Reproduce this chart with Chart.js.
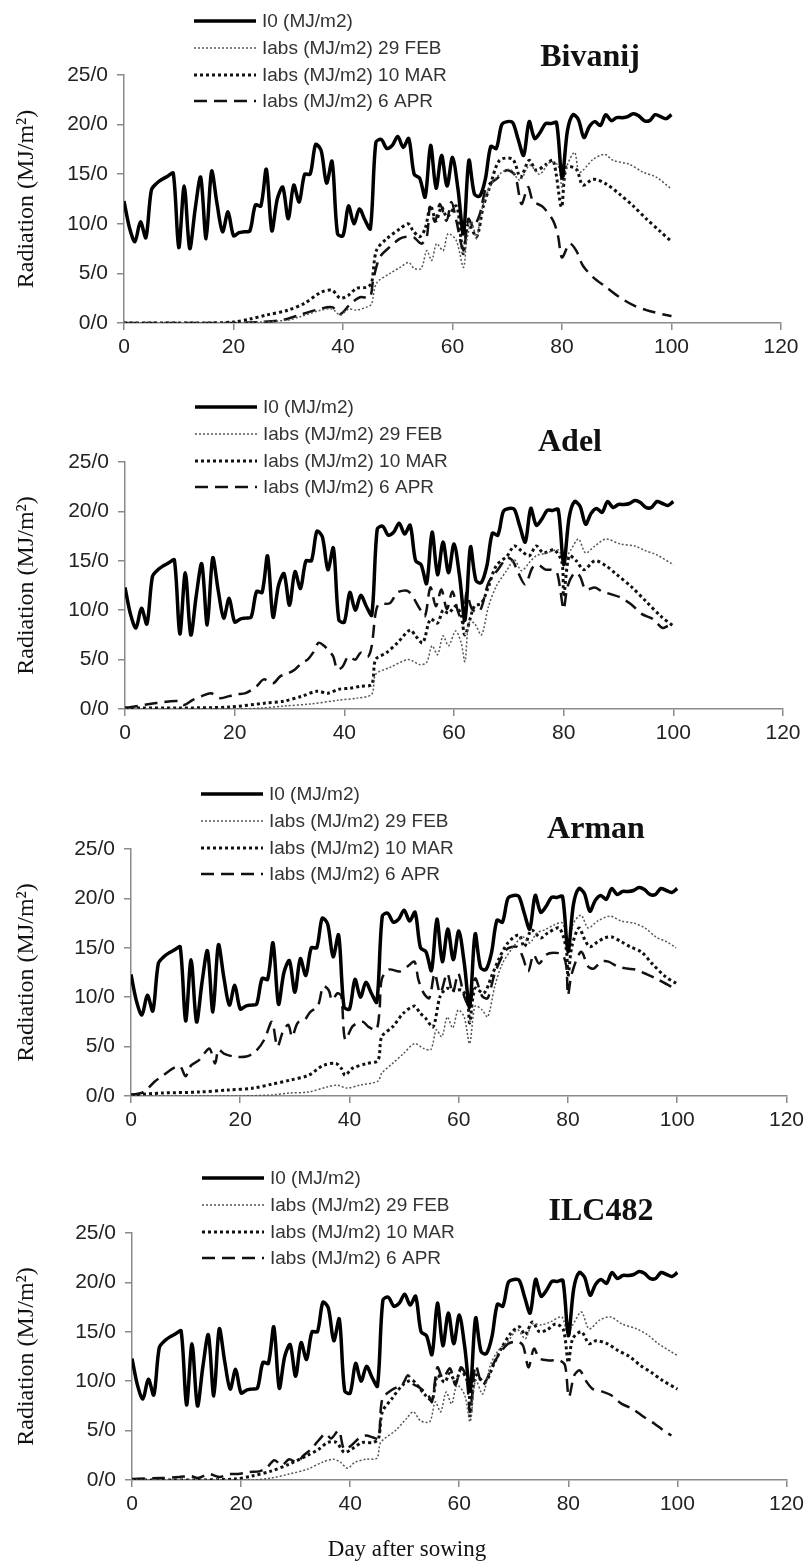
<!DOCTYPE html>
<html>
<head>
<meta charset="utf-8">
<script src="https://cdn.jsdelivr.net/npm/chart.js@4.4.1/dist/chart.umd.min.js"></script>
<style>
    body { margin: 0; background: #fff; width: 809px; height: 1561px; position: relative; overflow: hidden; }
    canvas.panel { position: absolute; left: 0; }
    #xTitle { position: absolute; left: 0; width: 814px; top: 1535px; line-height: 28px; text-align: center;
              font-family: "Liberation Serif", "Times New Roman", serif; font-size: 23px; color: #111; }
</style>
</head>
<body>
<canvas class="panel" id="panel0" width="809" height="385" style="top:0px"></canvas>
<canvas class="panel" id="panel1" width="809" height="385" style="top:386px"></canvas>
<canvas class="panel" id="panel2" width="809" height="385" style="top:773px"></canvas>
<canvas class="panel" id="panel3" width="809" height="385" style="top:1157px"></canvas>
<div id="xTitle">Day after sowing</div>
<script>
// ---- data ----
const cultivars = ["Bivanij", "Adel", "Arman", "ILC482"];
const seriesLabels = ["I0 (MJ/m2)", "Iabs (MJ/m2) 29 FEB", "Iabs (MJ/m2) 10 MAR", "Iabs (MJ/m2) 6 APR"];
const yTickLabels = ["0/0", "5/0", "10/0", "15/0", "20/0", "25/0"];
const yTitle = "Radiation (MJ/m²)";

// incident radiation, one value per day 0..100 (same in every panel)
const incidentRadiation = [
    12.3, 9.6, 8.2, 10.2, 8.6, 13.4, 14.1, 14.5, 14.8, 15.1,
    7.6, 13.8, 7.5, 11.5, 14.7, 8.5, 15.3, 12.0, 9.2, 11.2,
    8.8, 9.1, 9.2, 9.3, 11.9, 11.8, 15.5, 9.3, 12.5, 13.7,
    10.5, 13.9, 12.2, 15.0, 15.0, 18.0, 17.4, 14.1, 16.3, 9.0,
    8.8, 11.8, 10.0, 11.5, 10.4, 9.5, 18.2, 18.5, 17.6, 17.9,
    18.8, 17.7, 18.6, 15.0, 14.6, 12.7, 17.9, 13.6, 16.9, 13.8,
    16.7, 13.5, 9.0, 16.4, 13.0, 12.8, 14.5, 17.8, 17.6, 20.0,
    20.3, 20.2, 18.5, 16.9, 20.3, 18.6, 19.2, 20.1, 20.1, 20.2,
    14.6, 19.4, 21.0, 20.5, 18.7, 19.8, 20.3, 19.9, 21.0, 20.4,
    20.7, 20.7, 20.8, 21.1, 20.9, 20.4, 20.4, 21.0, 20.8, 20.6,
    21.0
];

// absorbed radiation, [day, value]
const bivanijFeb = [[0,0],[10,0],[20,0],[25,0.1],[30,0.3],[32,0.6],[36,1.3],[38,1.4],[39.5,0.8],[41,1.4],[42.5,1.3],[44.3,1.6],[45.2,1.9],[46.1,4.0],[48.6,5.0],[50.4,5.6],[52,6.1],[53,5.5],[54.3,5.5],[55.3,7.3],[56.2,6.3],[57.1,8.0],[58.3,7.3],[59.2,9.0],[60.7,8.3],[62,5.6],[62.6,8.3],[63.5,10.2],[64.4,8.5],[65.3,11.3],[66.8,13.7],[68.6,15.0],[70.5,15.5],[72.3,14.4],[74.1,15.9],[75.9,15.0],[77.8,16.2],[79.3,15.9],[80,13.7],[80.8,15.7],[82.3,17.2],[83.2,15.2],[85.7,16.5],[87.8,17.0],[89.3,16.4],[92.3,16.0],[94.8,15.2],[97.2,14.7],[100,13.5]];
const bivanijMar = [[0,0],[15,0],[20,0.1],[23,0.4],[26,0.8],[30,1.3],[33,2.0],[36,3.1],[38,3.3],[39.5,2.5],[41,2.8],[42.5,3.5],[44.3,3.6],[45.2,4.0],[46.1,7.3],[48,8.5],[50.4,9.5],[51.9,10.0],[52.8,9.3],[54,8.7],[55,9.5],[56,11.8],[57,10.3],[58,11.7],[59,10.7],[60.7,11.8],[61.6,8.3],[62,7.0],[62.9,10.0],[64.4,8.7],[65.6,11.7],[66.8,13.7],[68.6,16.4],[71,16.5],[72.4,14.7],[74,16.4],[75.3,15.4],[77.1,16.0],[78.4,16.4],[79.9,11.7],[80.8,15.7],[82.6,15.5],[83.8,13.9],[85.7,14.5],[88.1,14.0],[90.5,13.0],[93,11.8],[95.4,10.5],[97.8,9.3],[100,8.2]];
const bivanijApr = [[0,0],[20,0],[25,0.1],[29,0.3],[32,0.8],[35,1.3],[38,1.6],[39.5,0.9],[41.3,1.9],[43.1,2.6],[44.9,2.6],[45.5,4.3],[46.7,6.6],[48.6,7.7],[50.4,8.5],[51.6,8.7],[53,8.6],[54.3,8.0],[55.3,8.7],[55.9,11.7],[56.8,10.2],[57.7,12.0],[58.9,10.3],[59.8,12.2],[60.7,10.3],[62,7.3],[62.9,10.5],[63.8,9.7],[65,11.0],[66.2,13.7],[68,14.5],[69.9,15.4],[71.4,14.9],[72.6,12.0],[73.8,13.7],[74.7,12.3],[76.5,11.7],[78.4,10.3],[79.3,8.7],[80,6.6],[81.4,8.0],[82.6,7.3],[83.8,5.8],[85.7,4.6],[88.1,3.6],[90.5,2.6],[93,1.8],[95.4,1.3],[99,0.8],[100,0.7]];

const adelFeb = [[0,0],[20,0],[25,0.1],[29,0.3],[33.7,0.5],[39,0.9],[42.3,1.1],[45,1.5],[45.7,3.5],[48.3,4.2],[51.7,5.0],[53.7,4.5],[55,4.7],[56,6.4],[57,5.5],[58,7.4],[59,6.4],[60.3,7.9],[61.3,6.7],[62,4.8],[62.7,8.7],[63.7,8.7],[65,7.5],[66.3,10.4],[67.7,12.4],[69.7,14.1],[71,15.1],[72.3,14.0],[73.7,14.8],[75,15.5],[77,15.8],[79,16.1],[80,15.1],[81.3,16.1],[82.7,17.2],[84,15.8],[85.7,16.5],[87.7,17.2],[90.3,16.7],[93,16.5],[95,16.0],[97,15.6],[100,14.6]];
const adelMar = [[0,0.1],[10,0.1],[19,0.2],[25.7,0.6],[29,0.8],[32.3,1.3],[35,1.8],[37,1.6],[39,2.0],[41,2.1],[43,2.3],[45,2.5],[45.7,5.0],[47.7,5.7],[49.7,6.7],[52,8.0],[53,7.4],[54.3,6.7],[55.7,9.1],[57,8.7],[58,10.0],[59,9.7],[60.3,10.4],[61.3,9.5],[62,7.5],[63.7,10.4],[65,10.7],[66.3,12.4],[67.7,14.5],[69.7,15.5],[71,16.5],[72.3,16.0],[73.7,15.5],[75,16.5],[76.3,15.8],[78.3,16.1],[79.7,14.8],[80,11.4],[81,15.5],[82.3,15.0],[83.7,14.1],[85.7,15.0],[87.7,14.5],[89.7,13.6],[92.3,12.4],[95,10.9],[97.7,9.4],[100,8.4]];
const adelApr = [[0,0.1],[5.7,0.6],[9.7,0.8],[10.7,0.4],[12.3,0.9],[14,1.3],[15.7,1.6],[17.3,1.1],[19,1.3],[20.3,1.5],[22,1.6],[24,2.3],[25.3,3.0],[27,2.6],[28.3,3.3],[29.7,3.6],[31,4.0],[32.3,4.7],[33.3,5.0],[34.3,5.7],[35.3,6.7],[36.3,6.4],[37.3,5.8],[38,5.3],[38.7,4.0],[39.7,4.3],[40.7,5.3],[42,5.0],[43,5.7],[44.3,5.3],[45,6.4],[45.7,9.7],[46.3,10.6],[48.3,10.7],[49.7,11.8],[51.7,11.9],[53.7,10.2],[54.7,9.4],[55.7,12.3],[56.7,10.4],[57.7,12.1],[58.7,10.1],[59.7,11.9],[60.7,9.9],[61.7,8.7],[62.3,11.8],[63.3,10.1],[64.7,9.9],[66.3,12.8],[68,14.1],[69.7,15.3],[70.7,15.0],[71.7,13.8],[73,12.6],[74.3,14.3],[75.3,14.6],[76.7,14.1],[77.7,14.1],[78.7,13.9],[79.3,12.4],[80,10.1],[80.7,12.4],[82,13.8],[83,13.4],[84,12.1],[85.7,12.3],[87,11.9],[88.7,11.6],[90.3,11.3],[92.3,10.6],[94.3,9.6],[96.3,9.1],[98,8.2],[99,8.4]];

const armanFeb = [[0,0],[19,0],[25.8,0.1],[29,0.3],[32.5,0.4],[35.8,0.9],[37.8,1.1],[39.5,0.8],[41.9,1.1],[45.2,1.5],[45.9,2.3],[47.9,3.3],[49.9,4.3],[51.9,5.3],[53.6,4.8],[54.9,4.7],[55.9,6.7],[56.9,6.0],[57.9,8.0],[58.9,6.9],[59.9,8.7],[61,8.0],[62,5.3],[63,9.1],[64.3,8.7],[65.3,8.0],[66.6,11.1],[68,13.4],[70,15.1],[71.7,16.1],[73,15.5],[74.3,16.5],[75.7,16.8],[77.4,17.3],[79,17.5],[80,15.5],[81,17.5],[82.4,18.3],[83.7,17.0],[85.4,17.7],[87.7,18.2],[89.8,17.7],[92.1,17.5],[94.1,17.0],[96.1,16.1],[98.1,15.6],[99.8,15.0]];
const armanMar = [[0,0.1],[5.7,0.3],[12.4,0.4],[17.7,0.6],[22.4,0.8],[25.8,1.2],[29.1,1.6],[32.5,2.1],[35.2,3.1],[37.5,3.3],[38.5,2.8],[39.2,2.1],[40.5,2.8],[43.2,3.3],[45.2,3.6],[45.9,6.0],[47.9,7.0],[49.9,8.4],[51.9,9.1],[52.9,8.4],[53.9,7.9],[55.3,7.0],[56.6,10.1],[57.9,10.9],[59.3,10.7],[60.6,10.7],[61.6,9.7],[62,7.4],[63,10.9],[64.6,10.4],[66,12.1],[67.3,13.8],[69,15.5],[71,16.3],[72,15.1],[73.3,16.8],[75,16.0],[76.3,16.5],[78.4,17.0],[79.7,14.8],[80,12.1],[80.7,15.1],[82,17.0],[83.1,15.8],[84,15.1],[85.4,15.6],[86.7,16.0],[88,16.1],[89.8,15.6],[91.4,15.1],[93.4,14.6],[95.4,13.4],[97.8,12.1],[99.8,11.4]];
const armanApr = [[0,0.1],[2.3,0.4],[4.4,1.5],[5.7,2.0],[7.7,2.8],[9,3.0],[10,2.0],[11,3.1],[12.4,3.6],[13.4,4.3],[14.4,4.8],[15.4,3.3],[16,4.7],[17,4.3],[18.8,4.0],[21.1,4.0],[22.8,4.5],[24.4,5.7],[25.8,7.5],[26.8,5.0],[27.8,6.5],[28.8,7.2],[29.5,6.0],[30.5,7.4],[31.8,7.7],[32.8,8.5],[34.2,9.1],[35.2,11.1],[36.2,10.7],[36.8,9.7],[37.8,10.4],[38.5,10.1],[39.2,5.7],[40.5,7.0],[41.5,7.4],[42.5,7.5],[43.5,7.0],[44.9,6.7],[45.5,8.7],[45.9,11.8],[47.2,12.8],[49.2,12.6],[50.6,13.1],[51.9,13.6],[52.6,11.8],[53.6,10.4],[54.6,9.9],[55.6,12.4],[56.6,10.4],[57.9,12.4],[58.9,10.4],[59.9,12.4],[61,10.1],[62,9.1],[63,11.9],[64.3,10.1],[65.3,9.9],[66.6,12.4],[68.7,14.8],[70.7,15.1],[71.7,14.1],[72.7,12.6],[73.7,14.3],[74.7,13.4],[76,14.3],[77.4,14.5],[79,14.3],[79.7,13.1],[80,10.2],[80.7,12.4],[82.4,14.6],[83.7,13.1],[84.7,12.9],[86.1,13.6],[87.4,13.6],[89.1,13.1],[90.8,12.9],[92.4,12.8],[94.1,12.4],[96.1,11.9],[98.8,11.1],[99.8,10.9]];

const ilcFeb = [[0,0],[22,0],[25.5,0.2],[28.8,0.6],[32.2,1.1],[34.9,1.8],[36.9,2.1],[38.2,1.8],[39.5,1.2],[40.9,1.8],[42.9,2.1],[44.9,2.2],[45.6,3.8],[48.3,5.0],[50.3,6.2],[51.6,6.9],[52.9,6.0],[54.6,5.9],[55.6,7.9],[56.6,6.9],[57.6,8.9],[58.6,7.7],[59.6,9.6],[61,8.6],[62,5.9],[63,10.1],[64.3,8.7],[65.7,11.6],[67,13.0],[69,14.1],[70.7,15.2],[72.1,14.3],[73.4,15.8],[75.1,15.7],[76.7,16.0],[78.8,16.5],[79.8,15.0],[80.8,15.7],[82.4,17.0],[83.8,15.3],[85.8,16.2],[87.8,16.5],[89.8,15.8],[92.5,15.3],[94.5,14.7],[96.5,13.8],[98.5,13.1],[100,12.6]];
const ilcMar = [[0,0],[12,0],[18.8,0.1],[22,0.4],[25.5,0.9],[28.8,1.6],[32.2,2.5],[34.2,3.1],[35.9,3.8],[37.5,3.8],[38.9,2.8],[40.2,3.1],[42.2,3.8],[44.2,3.8],[45.2,4.2],[45.9,6.9],[47.6,8.2],[49.6,9.6],[51.3,10.1],[52.3,9.6],[53.6,8.7],[55,8.1],[56,10.6],[57.3,9.9],[58.3,10.8],[59.3,9.9],[60.3,11.1],[61.7,9.6],[62,6.5],[63,10.6],[64.7,9.9],[66.4,11.8],[67.7,13.3],[69.4,14.8],[71,15.5],[72.1,14.7],[73.4,16.0],[74.7,15.0],[76.1,15.2],[77.7,15.8],[79.1,15.2],[80,11.9],[80.8,14.3],[82.4,15.0],[83.8,13.8],[85.1,14.1],[87.1,13.8],[89.1,13.1],[91.2,12.5],[93.2,11.6],[95.2,10.9],[97.2,10.1],[100,9.2]];
const ilcApr = [[0,0.1],[5.4,0.2],[8.7,0.3],[10.7,0.4],[12.1,0.2],[14.1,0.6],[16.1,0.3],[17.8,0.6],[19.4,0.6],[21.4,0.8],[23.5,0.9],[24.8,1.3],[26.1,2.0],[27.5,1.5],[28.8,2.1],[30.2,1.8],[31.5,2.5],[32.8,3.1],[34.2,4.0],[35.5,4.7],[36.5,4.2],[37.9,5.0],[38.9,3.1],[40.2,3.5],[41.6,4.2],[42.9,4.5],[44.2,4.3],[45.2,4.2],[45.9,8.2],[47.6,9.1],[49.6,9.7],[50.6,10.6],[51.6,9.7],[52.6,9.4],[54.3,8.6],[55,7.9],[56,11.4],[57,10.3],[58.3,11.3],[59.3,9.6],[60.3,11.4],[61.3,10.4],[62,6.9],[63,11.6],[64.3,9.6],[66.4,11.9],[67.7,13.0],[69,13.8],[70.7,14.0],[71.7,13.6],[72.7,11.4],[73.7,13.3],[74.7,12.3],[76.4,12.1],[78.4,12.1],[79.4,11.6],[80.1,8.4],[81.1,10.6],[82.1,11.1],[83.4,9.9],[84.5,9.2],[86.5,8.9],[87.8,8.6],[89.8,7.7],[91.8,7.2],[93.8,6.4],[95.8,5.7],[97.5,5.0],[98.9,4.5]];

const absorbedByCultivar = [
    [bivanijFeb, bivanijMar, bivanijApr],
    [adelFeb, adelMar, adelApr],
    [armanFeb, armanMar, armanApr],
    [ilcFeb, ilcMar, ilcApr],
];

// ---- look ----
const lineStyles = [
    { borderColor: "#000", borderWidth: 3.5, borderDash: [] },
    { borderColor: "#555", borderWidth: 1.5, borderDash: [2, 2] },
    { borderColor: "#111", borderWidth: 3, borderDash: [3, 3] },
    { borderColor: "#111", borderWidth: 2.5, borderDash: [13, 7] },
];

// plot box of each panel inside its canvas (left axis x, x=120 position, title spot)
const panelLayout = [
    { left: 124, right: 781, top: 75, titleX: 590, titleY: 58 },
    { left: 125, right: 783, top: 76, titleX: 570, titleY: 57 },
    { left: 131, right: 788, top: 76, titleX: 596, titleY: 57 },
    { left: 132, right: 789, top: 76, titleX: 601, titleY: 55 },
];
const legendRows = [21, 48, 75, 101];

const sansFont = "'Liberation Sans', Arial, sans-serif";
const serifFont = "'Liberation Serif', 'Times New Roman', serif";

// legend block and cultivar name, drawn where the original puts them
const panelDecor = {
    id: "panelDecor",
    afterDraw(chart, args, opts) {
        const ctx = chart.ctx;
        const x0 = chart.chartArea.left + 70;
        ctx.save();
        chart.data.datasets.forEach((ds, i) => {
            const y = legendRows[i];
            ctx.beginPath();
            ctx.setLineDash(ds.borderDash);
            ctx.lineWidth = ds.borderWidth;
            ctx.strokeStyle = ds.borderColor;
            ctx.moveTo(x0, y);
            ctx.lineTo(x0 + 62, y);
            ctx.stroke();
            ctx.setLineDash([]);
            ctx.fillStyle = "#333";
            ctx.font = "19px " + sansFont;
            ctx.textBaseline = "middle";
            ctx.textAlign = "left";
            ctx.fillText(ds.label, x0 + 68, y + 1);
        });
        ctx.font = "bold 32px " + serifFont;
        ctx.textAlign = "center";
        ctx.fillStyle = "#111";
        ctx.fillText(opts.title, opts.titleX, opts.titleY);
        ctx.restore();
    },
};

const makePanel = (index) => {
    const box = panelLayout[index];
    const curves = [incidentRadiation.map((v, day) => [day, v])].concat(absorbedByCultivar[index]);
    const datasets = curves.map((pairs, i) => ({
        label: seriesLabels[i],
        data: pairs.map(([x, y]) => ({ x: x, y: y })),
        borderColor: lineStyles[i].borderColor,
        borderWidth: lineStyles[i].borderWidth,
        borderDash: lineStyles[i].borderDash,
        pointRadius: 0,
        tension: 0.3,
        fill: false,
    }));

    const ctx = document.getElementById("panel" + index).getContext("2d");
    return new Chart(ctx, {
        type: "line",
        data: { datasets: datasets },
        options: {
            responsive: false,
            animation: false,
            events: [],
            layout: { padding: { top: box.top, right: 809 - box.right, left: 0, bottom: 0 } },
            plugins: {
                legend: { display: false },
                tooltip: { enabled: false },
                panelDecor: { title: cultivars[index], titleX: box.titleX, titleY: box.titleY },
            },
            scales: {
                x: {
                    type: "linear",
                    min: 0,
                    max: 120,
                    afterFit: (scale) => { scale.height = 62; },
                    ticks: { stepSize: 20, color: "#222", padding: 5, font: { family: sansFont, size: 21 } },
                    grid: { drawOnChartArea: false, drawTicks: true, tickLength: 7, color: "#8a8a8a", lineWidth: 1.5 },
                    border: { color: "#8a8a8a", width: 1.5 },
                },
                y: {
                    min: 0,
                    max: 25,
                    afterFit: (scale) => { scale.width = box.left; },
                    ticks: {
                        stepSize: 5,
                        color: "#222",
                        padding: 9,
                        font: { family: sansFont, size: 21 },
                        callback: (value, i) => yTickLabels[i],
                    },
                    grid: { drawOnChartArea: false, drawTicks: true, tickLength: 7, color: "#8a8a8a", lineWidth: 1.5 },
                    border: { color: "#8a8a8a", width: 1.5 },
                    title: {
                        display: true,
                        text: yTitle,
                        color: "#111",
                        padding: { top: 12, bottom: 0 },
                        font: { family: serifFont, size: 24 },
                    },
                },
            },
        },
        plugins: [panelDecor],
    });
};

cultivars.forEach((name, i) => makePanel(i));
</script>
</body>
</html>
